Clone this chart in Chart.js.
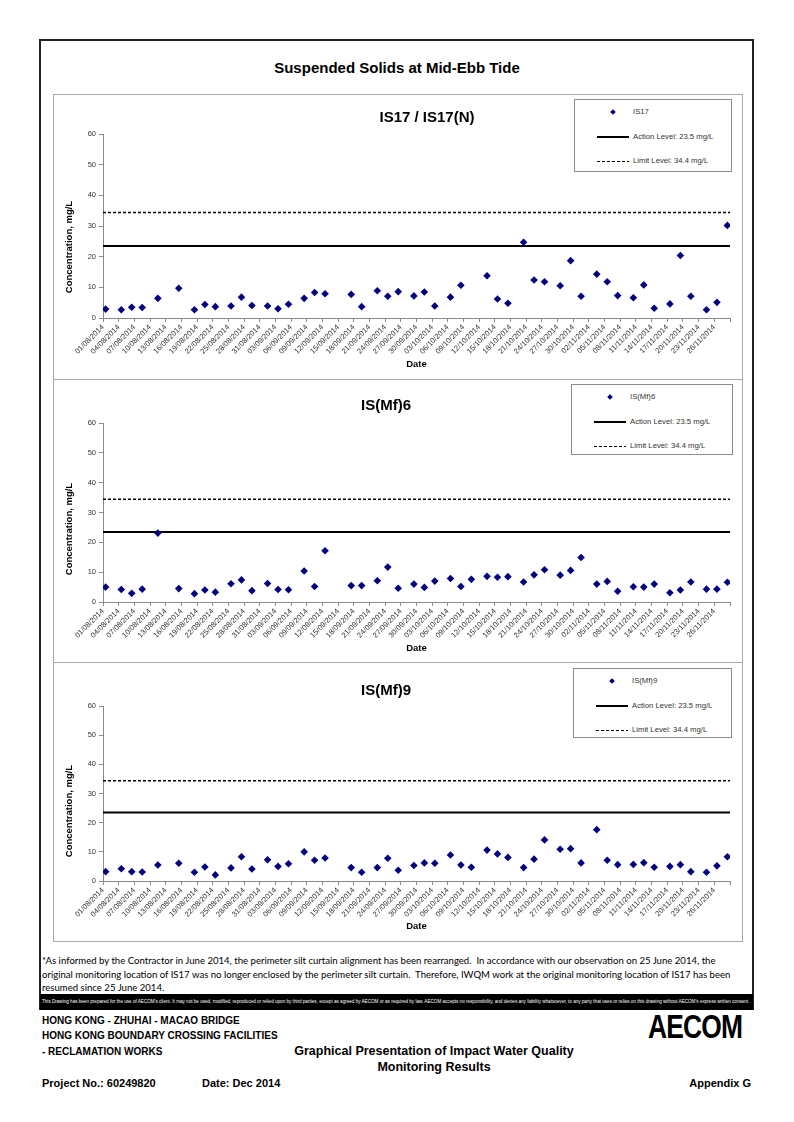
<!DOCTYPE html>
<html>
<head>
<meta charset="utf-8">
<title>Suspended Solids at Mid-Ebb Tide</title>
<script src="https://cdn.jsdelivr.net/npm/chart.js@4.4.1/dist/chart.umd.min.js"></script>
<style>
  body { margin: 0; background: #fff; font-family: "Liberation Sans", Arial, sans-serif; color: #000; }
  #page { position: relative; width: 794px; height: 1122px; overflow: hidden; }
  .abs { position: absolute; white-space: pre; }
  #frame { position: absolute; left: 39px; top: 39px; width: 715px; height: 971px; border: 2px solid #222; box-sizing: border-box; }
  #charts { position: absolute; left: 53px; top: 94px; width: 690px; height: 848px; border: 1px solid #a8a8a8; box-sizing: border-box; }
  .divider { position: absolute; left: 53px; width: 690px; height: 1px; background: #a8a8a8; }
  canvas { position: absolute; left: 53px; }
  .main-title { left: 0; width: 794px; text-align: center; font-size: 15px; line-height: 15px; font-weight: bold; }
  .panel-title { width: 300px; text-align: center; font-size: 15px; line-height: 15px; font-weight: bold; }
  .y-title { width: 140px; height: 12px; line-height: 12px; text-align: center; font-size: 9.5px; font-weight: bold; transform: rotate(-90deg); }
  .legend { position: absolute; background: #fff; border: 1px solid #8c8c8c; box-sizing: border-box; }
  .lg-row { position: absolute; left: 0; width: 100%; height: 10px; }
  .lg-dot { position: absolute; left: 36px; top: 2.5px; width: 4px; height: 4px; background: #000080; transform: rotate(45deg); }
  .lg-line { position: absolute; left: 22px; top: 4px; width: 32px; height: 2px; background: #000; }
  .lg-dash { position: absolute; left: 22px; top: 4.5px; width: 32px; height: 1.5px; background: repeating-linear-gradient(90deg, #000 0 3px, transparent 3px 5px); }
  .lg-text { position: absolute; left: 58px; top: 0; font-size: 7.7px; line-height: 10px; color: #333; white-space: nowrap; }
  .note { left: 42px; font-family: Lato, "Open Sans", sans-serif; font-size: 10.3px; line-height: 13px; transform: scaleX(0.93); transform-origin: left center; }
  #disclaimer { position: absolute; left: 40px; top: 994px; width: 713px; height: 16px; background: #000; color: #fff; font-size: 4.6px; line-height: 16px; white-space: nowrap; overflow: hidden; padding-left: 2px; box-sizing: border-box; }
  .block { font-weight: bold; font-size: 10px; line-height: 12px; }
  .block-title { width: 400px; left: 234px; text-align: center; font-weight: bold; font-size: 12.5px; line-height: 14px; }
  .foot { font-weight: bold; font-size: 11px; line-height: 13px; }
  #logo { left: 648px; top: 1009px; font-weight: 900; font-size: 33px; line-height: 36px; letter-spacing: -1px; transform: scaleX(0.8); transform-origin: left center; }
</style>
</head>
<body>
<div id="page">
  <div id="frame"></div>
  <div class="abs main-title" style="top: 60px;">Suspended Solids at Mid-Ebb Tide</div>

  <div id="charts"></div>
  <div class="divider" style="top: 379px;"></div>
  <div class="divider" style="top: 662px;"></div>

  <canvas id="chart-is17" width="689" height="285" style="top: 94px;"></canvas>
  <canvas id="chart-mf6" width="689" height="283" style="top: 379px;"></canvas>
  <canvas id="chart-mf9" width="689" height="279" style="top: 662px;"></canvas>

  <div class="abs panel-title" style="left: 277px; top: 109px;">IS17 / IS17(N)</div>
  <div class="abs panel-title" style="left: 236px; top: 397px;">IS(Mf)6</div>
  <div class="abs panel-title" style="left: 236px; top: 682px;">IS(Mf)9</div>

  <div class="abs y-title" style="left: -1px; top: 241px;">Concentration, mg/L</div>
  <div class="abs y-title" style="left: -1px; top: 523px;">Concentration, mg/L</div>
  <div class="abs y-title" style="left: -1px; top: 805px;">Concentration, mg/L</div>

  <div class="legend" id="legend-is17" style="left: 574px; top: 99px; width: 158px; height: 73px;"></div>
  <div class="legend" id="legend-mf6" style="left: 571px; top: 384px; width: 162px; height: 71px;"></div>
  <div class="legend" id="legend-mf9" style="left: 573px; top: 668px; width: 159px; height: 70px;"></div>

  <div class="abs note" style="top: 954px;">*As informed by the Contractor in June 2014, the perimeter silt curtain alignment has been rearranged.  In accordance with our observation on 25 June 2014, the</div>
  <div class="abs note" style="top: 967.5px;">original monitoring location of IS17 was no longer enclosed by the perimeter silt curtain.  Therefore, IWQM work at the original monitoring location of IS17 has been</div>
  <div class="abs note" style="top: 981px;">resumed since 25 June 2014.</div>
  <div id="disclaimer">This Drawing has been prepared for the use of AECOM's client. It may not be used, modified, reproduced or relied upon by third parties, except as agreed by AECOM or as required by law. AECOM accepts no responsibility, and denies any liability whatsoever, to any party that uses or relies on this drawing without AECOM's express written consent.</div>

  <div class="abs block" style="left: 42px; top: 1015px;">HONG KONG - ZHUHAI - MACAO BRIDGE</div>
  <div class="abs block" style="left: 42px; top: 1030px;">HONG KONG BOUNDARY CROSSING FACILITIES</div>
  <div class="abs block" style="left: 42px; top: 1046px;">- RECLAMATION WORKS</div>
  <div class="abs block-title" style="top: 1044px;">Graphical Presentation of Impact Water Quality</div>
  <div class="abs block-title" style="top: 1060px;">Monitoring Results</div>
  <div class="abs foot" style="left: 42px; top: 1077px;">Project No.: 60249820</div>
  <div class="abs foot" style="left: 202px; top: 1077px;">Date: Dec 2014</div>
  <div class="abs foot" style="left: 651px; top: 1077px; width: 100px; text-align: right;">Appendix G</div>
  <div class="abs" id="logo">AECOM</div>
</div>

<script>
// Monitoring dates (mid-ebb tide), Aug - Nov 2014
const sampleDates = [
    '01/08/2014', '04/08/2014', '06/08/2014', '08/08/2014', '11/08/2014', '15/08/2014', '18/08/2014', '20/08/2014', '22/08/2014', '25/08/2014',
    '27/08/2014', '29/08/2014', '01/09/2014', '03/09/2014', '05/09/2014', '08/09/2014', '10/09/2014', '12/09/2014', '17/09/2014', '19/09/2014',
    '22/09/2014', '24/09/2014', '26/09/2014', '29/09/2014', '01/10/2014', '03/10/2014', '06/10/2014', '08/10/2014', '10/10/2014', '13/10/2014',
    '15/10/2014', '17/10/2014', '20/10/2014', '22/10/2014', '24/10/2014', '27/10/2014', '29/10/2014', '31/10/2014', '03/11/2014', '05/11/2014',
    '07/11/2014', '10/11/2014', '12/11/2014', '14/11/2014', '17/11/2014', '19/11/2014', '21/11/2014', '24/11/2014', '26/11/2014', '28/11/2014'
];

// Suspended solids, mg/L
const is17Values = [
    2.9, 2.7, 3.5, 3.4, 6.4, 9.7, 2.7, 4.4, 3.7, 3.9,
    6.8, 4.1, 3.9, 3.0, 4.5, 6.4, 8.3, 7.9, 7.7, 3.7,
    8.9, 7.1, 8.6, 7.2, 8.5, 3.9, 6.8, 10.7, null, 13.8,
    6.2, 4.8, 24.7, 12.4, 11.8, 10.5, 18.7, 7.1, 14.3, 11.8,
    7.3, 6.6, 10.8, 3.2, 4.6, 20.4, 7.1, 2.7, 5.1, 30.2
];
const mf6Values = [
    5.0, 4.2, 2.9, 4.3, 23.1, 4.5, 2.8, 4.0, 3.3, 6.1,
    7.4, 3.8, 6.2, 4.2, 4.1, 10.4, 5.2, 17.2, 5.5, 5.5,
    7.1, 11.7, 4.6, 6.0, 4.9, 7.0, 7.9, 5.2, 7.6, 8.6,
    8.3, 8.5, 6.7, 9.1, 10.8, 9.0, 10.6, 14.9, 6.0, 6.9,
    3.6, 5.1, 5.0, 6.0, 3.1, 4.0, 6.7, 4.3, 4.3, 6.6
];
const mf9Values = [
    3.2, 4.2, 3.2, 3.1, 5.5, 6.1, 3.0, 4.8, 2.1, 4.5,
    8.3, 4.1, 7.3, 5.0, 5.9, 10.0, 7.1, 7.9, 4.6, 3.0,
    4.6, 7.8, 3.7, 5.3, 6.2, 6.1, 8.9, 5.5, 4.7, 10.6,
    9.3, 8.1, 4.6, 7.5, 14.1, 10.9, 11.1, 6.2, 17.6, 7.1,
    5.6, 5.7, 6.3, 4.7, 5.0, 5.6, 3.2, 3.0, 5.2, 8.3
];

const ACTION_LEVEL = 23.5;
const LIMIT_LEVEL = 34.4;

// x axis labels, one every 3 days from 01/08/2014
const xTickLabels = [
    '01/08/2014', '04/08/2014', '07/08/2014', '10/08/2014', '13/08/2014', '16/08/2014', '19/08/2014', '22/08/2014', '25/08/2014', '28/08/2014',
    '31/08/2014', '03/09/2014', '06/09/2014', '09/09/2014', '12/09/2014', '15/09/2014', '18/09/2014', '21/09/2014', '24/09/2014', '27/09/2014',
    '30/09/2014', '03/10/2014', '06/10/2014', '09/10/2014', '12/10/2014', '15/10/2014', '18/10/2014', '21/10/2014', '24/10/2014', '27/10/2014',
    '30/10/2014', '02/11/2014', '05/11/2014', '08/11/2014', '11/11/2014', '14/11/2014', '17/11/2014', '20/11/2014', '23/11/2014', '26/11/2014'
];
const yTicks = [0, 10, 20, 30, 40, 50, 60];

const X_DAYS = 120; // 01/08 to 28/11, one slot per day
const AXIS_GREY = '#8a8a8a';
const FONT = '"Liberation Sans", Arial, sans-serif';

// days since 01/08/2014 for a dd/mm/yyyy string
function dayIndex(str) {
    const p = str.split('/');
    const t = Date.UTC(Number(p[2]), Number(p[1]) - 1, Number(p[0]));
    return Math.round((t - Date.UTC(2014, 7, 1)) / 86400000);
}

// Function to build one station panel
function makePanel(canvasId, label, values, padTop, axisHeight, dateGap) {
    const ctx = document.getElementById(canvasId).getContext('2d');
    const points = [];
    sampleDates.forEach(function (d, i) {
        if (values[i] !== null) {
            points.push({ x: dayIndex(d) + 0.5, y: values[i] }); // centred in the day slot
        }
    });

    return new Chart(ctx, {
        type: 'scatter',
        data: {
            datasets: [{
                label: label,
                data: points,
                pointStyle: 'rectRot',
                pointRadius: 3.8,
                backgroundColor: '#000080',
                borderColor: '#000080',
                borderWidth: 0,
                order: 0,
            }, {
                type: 'line',
                label: 'Action Level: ' + ACTION_LEVEL + ' mg/L',
                data: [{ x: 0, y: ACTION_LEVEL }, { x: X_DAYS, y: ACTION_LEVEL }],
                showLine: true,
                borderColor: '#000',
                borderWidth: 2,
                pointRadius: 0,
                order: 1,
            }, {
                type: 'line',
                label: 'Limit Level: ' + LIMIT_LEVEL + ' mg/L',
                data: [{ x: 0, y: LIMIT_LEVEL }, { x: X_DAYS, y: LIMIT_LEVEL }],
                showLine: true,
                borderColor: '#000',
                borderWidth: 1.5,
                borderDash: [3, 2],
                pointRadius: 0,
                order: 2,
            }],
        },
        options: {
            responsive: false,
            animation: false,
            layout: { padding: { top: padTop, right: 12, bottom: 0, left: 0 } },
            plugins: { legend: { display: false }, tooltip: { enabled: false } },
            scales: {
                x: {
                    type: 'linear',
                    min: 0,
                    max: X_DAYS,
                    afterFit: function (scale) { scale.height = axisHeight; },
                    grid: { drawOnChartArea: false, tickLength: 4, color: AXIS_GREY },
                    border: { color: AXIS_GREY },
                    ticks: {
                        stepSize: 3,
                        autoSkip: false,
                        minRotation: 45,
                        maxRotation: 45,
                        padding: 1,
                        color: '#333',
                        font: { family: FONT, size: 7.5 },
                        callback: function (v) { return xTickLabels[v / 3] || ''; },
                    },
                    title: {
                        display: true,
                        text: 'Date',
                        color: '#000',
                        font: { family: FONT, size: 9.5, weight: 'bold' },
                        padding: { top: 0, bottom: dateGap },
                    },
                },
                y: {
                    min: yTicks[0],
                    max: yTicks[yTicks.length - 1],
                    afterFit: function (scale) { scale.width = 50; },
                    grid: { drawOnChartArea: false, tickLength: 4, color: AXIS_GREY },
                    border: { color: AXIS_GREY },
                    afterBuildTicks: function (scale) { scale.ticks = yTicks.map(function (v) { return { value: v }; }); },
                    ticks: { padding: 3, color: '#333', font: { family: FONT, size: 7.5 } },
                },
            },
        },
    });
}

// Function to draw the boxed legend of a panel from its datasets
function buildLegend(chart, boxId) {
    const box = document.getElementById(boxId);
    chart.data.datasets.forEach(function (ds, i) {
        const row = document.createElement('div');
        row.className = 'lg-row';
        row.style.top = (7 + i * 24.5) + 'px';

        const sym = document.createElement('span');
        if (ds.type !== 'line') {
            sym.className = 'lg-dot';
        } else if (ds.borderDash) {
            sym.className = 'lg-dash';
        } else {
            sym.className = 'lg-line';
        }
        const text = document.createElement('span');
        text.className = 'lg-text';
        text.textContent = ds.label;

        row.appendChild(sym);
        row.appendChild(text);
        box.appendChild(row);
    });
}

const is17Chart = makePanel('chart-is17', 'IS17', is17Values, 40, 61, 9);
const mf6Chart = makePanel('chart-mf6', 'IS(Mf)6', mf6Values, 44, 60, 8);
const mf9Chart = makePanel('chart-mf9', 'IS(Mf)9', mf9Values, 44, 60, 9);

buildLegend(is17Chart, 'legend-is17');
buildLegend(mf6Chart, 'legend-mf6');
buildLegend(mf9Chart, 'legend-mf9');
</script>
</body>
</html>
